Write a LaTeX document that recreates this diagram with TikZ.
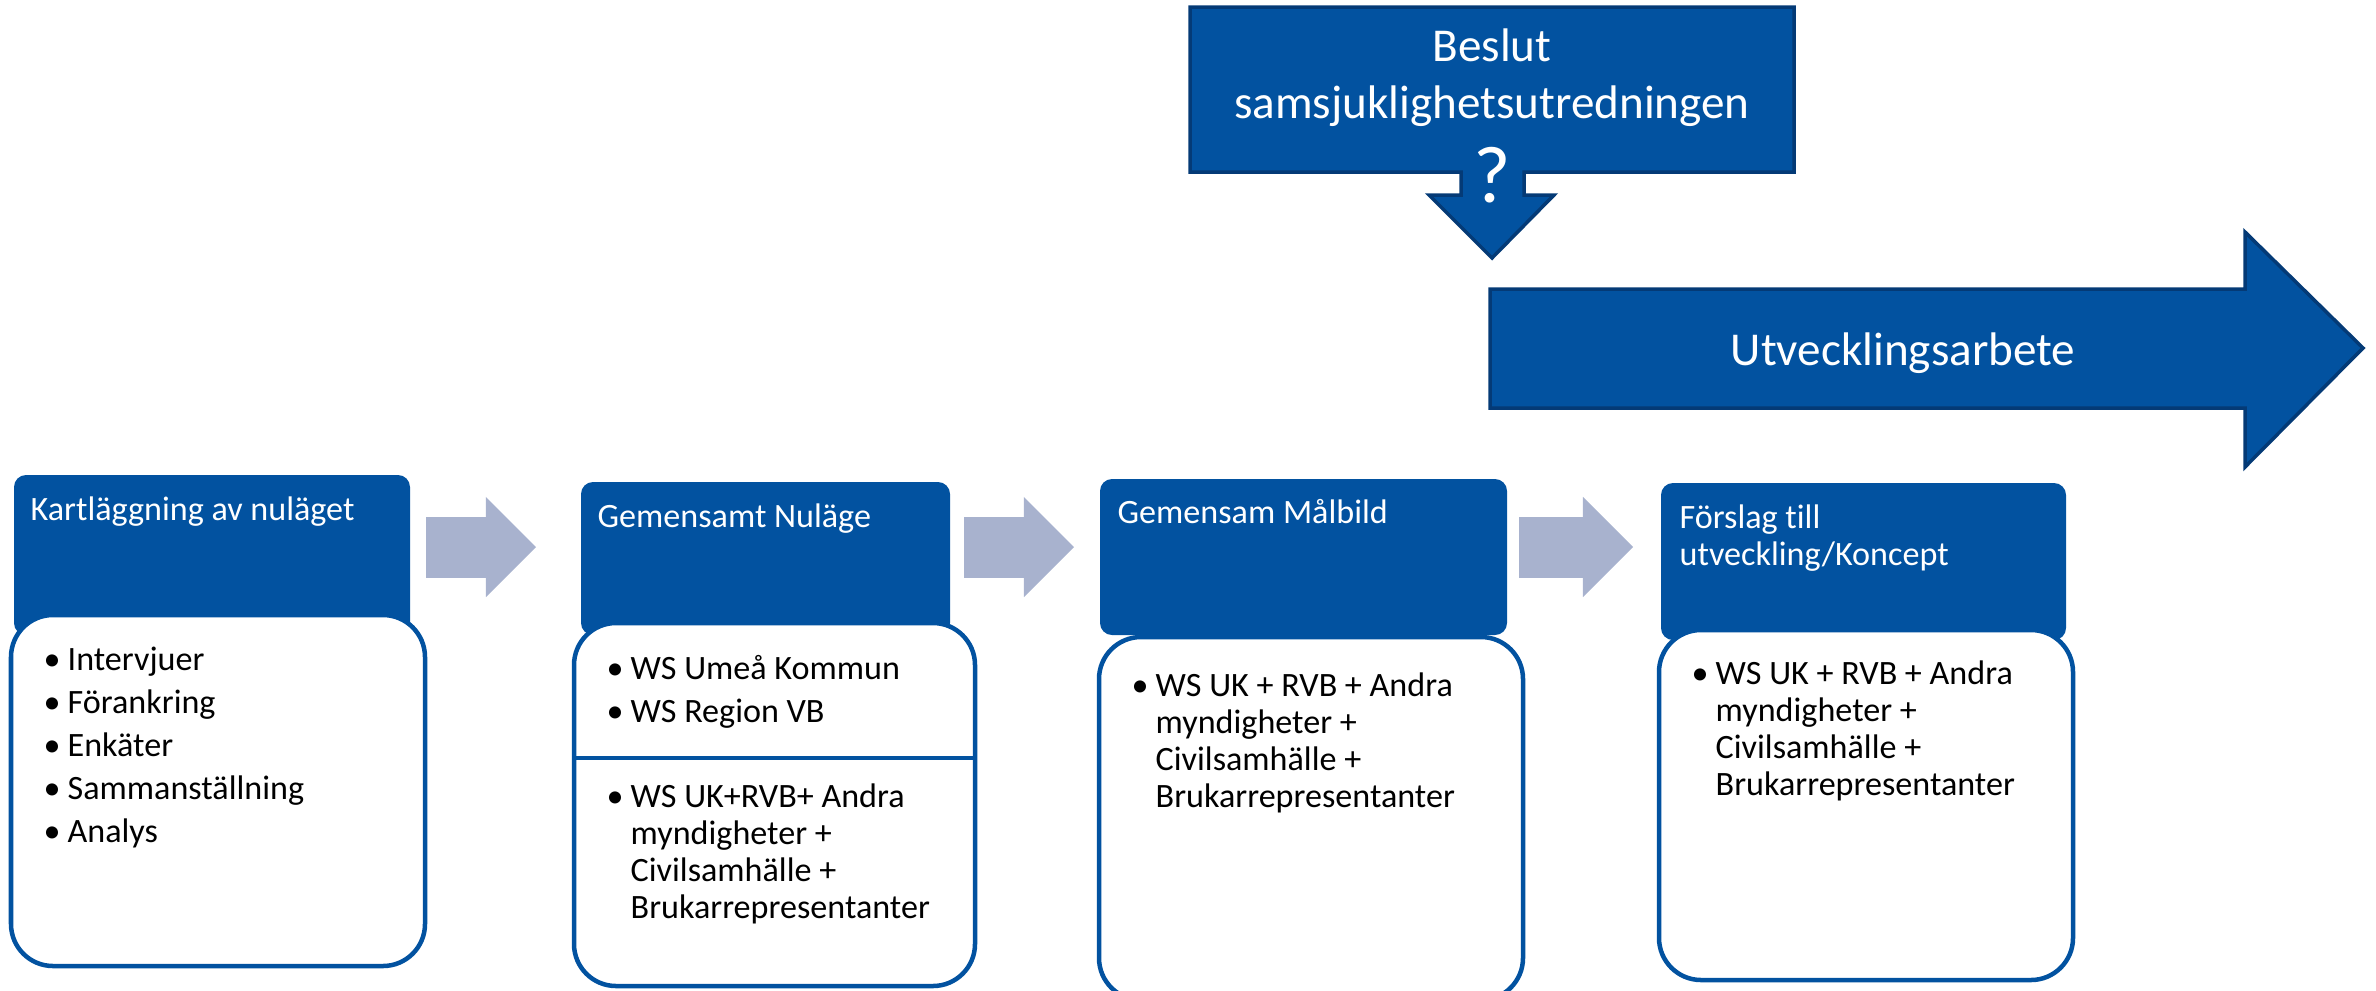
\documentclass[tikz,border=0pt]{standalone}
\usepackage{fontspec}
\setmainfont{Carlito}[Ligatures=NoCommon]
\usetikzlibrary{arrows.meta}
\definecolor{hblue}{RGB}{2,82,160}
\definecolor{dblue}{RGB}{4,58,118}
\definecolor{agray}{RGB}{168,178,206}
\newcommand{\bul}{\makebox[0.24cm][l]{•}}
\newcommand{\ind}{\makebox[0.24cm]{}}
\tikzset{
        headbox/.style={fill=hblue, rounded corners=0.12cm},
        listbox/.style={draw=hblue, fill=white, line width=0.045cm, rounded corners=0.42cm},
        headtext/.style={anchor=base west, inner sep=0, text=white, align=left, font=\fontsize{9.7}{10.5}\selectfont},
        listtext/.style={anchor=base west, inner sep=0, align=left, font=\fontsize{9.7}{10.5}\selectfont},
        steparrow/.style={draw=agray, line width=0.61cm, -{Triangle[length=0.5cm, width=1cm, line width=0pt]}},
        bigshape/.style={fill=hblue, draw=dblue, line width=0.035cm, line join=miter},
}
\begin{document}
\begin{tikzpicture}[x=0.01cm, y=-0.01cm]
        \useasboundingbox (0,0) rectangle (2376,990);
        %decision callout (base = last line)
        \draw[bigshape] (1190,7) -- (1794,7) -- (1794,172) -- (1524,172) -- (1524,195) -- (1554,195)
                -- (1492,258) -- (1429,195) -- (1461,195) -- (1461,172) -- (1190,172) -- cycle;
        \node[anchor=base, inner sep=0, text=white, align=center, font=\fontsize{13.4}{16.2}\selectfont]
                (beslut) at (1492,118) {Beslut\\samsjuklighetsutredningen};
        \node[anchor=base, inner sep=0, text=white, font=\fontsize{23}{27}\selectfont] (fraga) at (1492,202) {?};
        %development arrow
        \draw[bigshape] (1490,289) -- (2245,289) -- (2245,232) -- (2363,348) -- (2245,467) -- (2245,408)
                -- (1490,408) -- cycle;
        \node[anchor=base, inner sep=0, text=white, font=\fontsize{13.4}{16.2}\selectfont] (utv) at (1903,365) {Utvecklingsarbete};
        %step 1
        \fill[headbox] (14,475) rectangle (410,635);
        \draw[listbox] (11,615) rectangle (425,966);
        \node[headtext] (h1) at (30,520) {Kartläggning av nuläget};
        \node[listtext] (l1) at (43,842) {\bul Intervjuer\\[0.06cm] \bul Förankring\\[0.06cm] \bul Enkäter\\[0.06cm]
                \bul Sammanställning\\[0.06cm] \bul Analys};
        %step 2
        \fill[headbox] (581,482) rectangle (950,635);
        \draw[listbox] (574,623) rectangle (975,986);
        \draw[draw=hblue, line width=0.045cm] (574,758) -- (975,758);
        \node[headtext] (h2) at (597,527) {Gemensamt Nuläge};
        \node[listtext] (l2a) at (606,722) {\bul WS Umeå Kommun\\[0.06cm] \bul WS Region VB};
        \node[listtext] (l2b) at (606,918) {\bul WS UK+RVB+ Andra\\ \ind myndigheter +\\ \ind Civilsamhälle +\\
                \ind Brukarrepresentanter};
        %step 3
        \fill[headbox] (1100,479) rectangle (1507,635);
        \draw[listbox] (1099,637) rectangle (1523,1000);
        \node[headtext] (h3) at (1117,523) {Gemensam Målbild};
        \node[listtext] (l3) at (1131,807) {\bul WS UK + RVB + Andra\\ \ind myndigheter +\\ \ind Civilsamhälle +\\
                \ind Brukarrepresentanter};
        %step 4
        \fill[headbox] (1661,483) rectangle (2066,640);
        \draw[listbox] (1659,630) rectangle (2073,980);
        \node[headtext] (h4) at (1679,565) {Förslag till\\utveckling/Koncept};
        \node[listtext] (l4) at (1691,795) {\bul WS UK + RVB + Andra\\ \ind myndigheter +\\ \ind Civilsamhälle +\\
                \ind Brukarrepresentanter};
        %arrows between steps
        \coordinate (s1) at (426,547);
        \coordinate (e1) at (536,547);
        \coordinate (s2) at (964,547);
        \coordinate (e2) at (1074,547);
        \coordinate (s3) at (1519,547);
        \coordinate (e3) at (1633,547);
        \draw[steparrow] (s1) -- (e1);
        \draw[steparrow] (s2) -- (e2);
        \draw[steparrow] (s3) -- (e3);
\end{tikzpicture}
\end{document}
